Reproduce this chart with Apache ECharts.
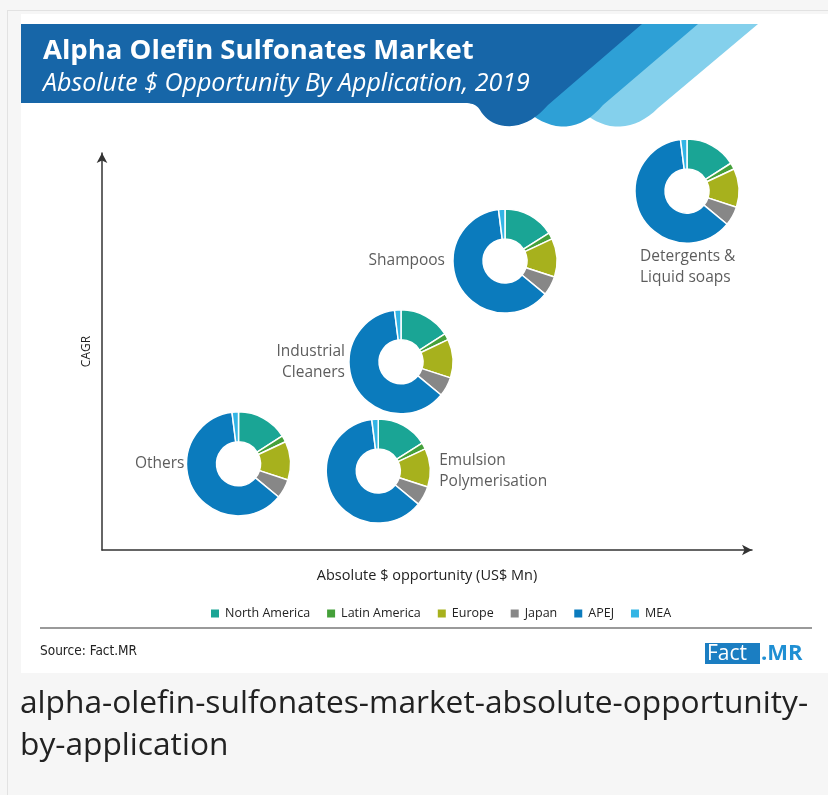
<!DOCTYPE html>
<html>
<head>
<meta charset="utf-8">
<title>Alpha Olefin Sulfonates Market</title>
<script src="https://cdn.jsdelivr.net/npm/echarts@6/dist/echarts.min.js"></script>
<style>
  body { margin: 0; background: #f6f6f6; font-family: 'Open Sans', sans-serif; }
  #frame { position: absolute; left: 7px; top: 10px; width: 821px; height: 785px;
           border-left: 1px solid #e2e2e2; border-top: 1px solid #e2e2e2; }
  #chart { position: absolute; left: 0; top: 0; width: 828px; height: 795px; }
  #caption { position: absolute; left: 20px; top: 680px; font-size: 31.7px; line-height: 42px; color: #222; white-space: nowrap; }
</style>
</head>
<body>
<div id="frame"></div>
<div id="chart"></div>
<div id="caption">alpha-olefin-sulfonates-market-absolute-opportunity-<br>by-application</div>
<script>
// applications and where they sit (absolute $ opportunity, CAGR)
const applications = ['Others', 'Emulsion Polymerisation', 'Industrial Cleaners', 'Shampoos', 'Detergents & Liquid soaps']
const appLabels = ['Others', 'Emulsion\nPolymerisation', 'Industrial\nCleaners', 'Shampoos', 'Detergents &\nLiquid soaps']
const opportunity = [21, 42.5, 46, 62, 90]
const cagr = [21.7, 19.9, 47.4, 72.8, 90.4]

// regional split of each donut (share %)
const regions = ['North America', 'Latin America', 'Europe', 'Japan', 'APEJ', 'MEA']
const regionColors = ['#1aa595', '#45a03a', '#a7b11d', '#878787', '#0b7bbd', '#33b5e5']
const shares = [
  [16, 2, 12, 6, 62, 2],
  [16, 2, 12, 6, 62, 2],
  [16, 2, 12, 6, 62, 2],
  [16, 2, 12, 6, 62, 2],
  [16, 2, 12, 6, 62, 2]
]

const chart = echarts.init(document.getElementById('chart'))

// label placement for each application, relative to its donut
const labelPlace = [
  { align: 'right', verticalAlign: 'middle', offset: [-54, 0] },
  { align: 'left', verticalAlign: 'middle', offset: [61, 0] },
  { align: 'right', verticalAlign: 'middle', offset: [-56, 0] },
  { align: 'right', verticalAlign: 'middle', offset: [-60, 0] },
  { align: 'left', verticalAlign: 'top', offset: [-47, 55] }
]

// header shapes: straight segments plus quadratic curves turned into points
function outline(parts) {
  const pts = []
  let cur = parts[0]
  pts.push(cur)
  for (let k = 1; k < parts.length; k++) {
    const p = parts[k]
    if (p.length === 4) {
      for (let t = 0.1; t <= 1.0001; t += 0.1) {
        const a = (1 - t) * (1 - t), b = 2 * (1 - t) * t, c = t * t
        pts.push([a * cur[0] + b * p[0] + c * p[2], a * cur[1] + b * p[1] + c * p[3]])
      }
      cur = [p[2], p[3]]
    } else {
      pts.push(p)
      cur = p
    }
  }
  return pts
}

const lightStripe = outline([[650, 24], [758, 24], [658, 108], [636, 130, 610, 126], [585, 120, 575, 100]])
const midStripe = outline([[600, 24], [698, 24], [603, 105], [582, 130, 556, 126], [530, 120, 520, 100]])
const darkBand = outline([[21, 24], [642, 24], [548, 105], [528, 128, 505, 126], [488, 124, 480, 110], [476, 103, 465, 103], [21, 103]])

const option = {
  color: regionColors,
  textStyle: { fontFamily: 'Open Sans' },
  title: {
    text: 'Alpha Olefin Sulfonates Market',
    subtext: 'Absolute $ Opportunity By Application, 2019',
    left: 38,
    top: 32,
    itemGap: 6,
    textStyle: { color: '#fff', fontSize: 27.5, fontWeight: 'bold', fontFamily: 'Open Sans' },
    subtextStyle: { color: '#fff', fontSize: 25, fontStyle: 'italic', fontFamily: 'Open Sans' }
  },
  legend: {
    data: regions,
    left: 204,
    top: 602,
    icon: 'rect',
    itemWidth: 10,
    itemHeight: 10,
    itemGap: 15,
    textStyle: { fontSize: 12.5, color: '#222', fontFamily: 'Open Sans' }
  },
  grid: { left: 102, right: 76, top: 153, bottom: 245 },
  xAxis: {
    type: 'value', min: 0, max: 100,
    name: 'Absolute $ opportunity (US$ Mn)',
    nameLocation: 'middle',
    nameGap: 18,
    nameTextStyle: { fontSize: 14.5, color: '#222' },
    axisLine: { lineStyle: { color: '#333', width: 1.5 }, symbol: ['none', 'arrow'], symbolSize: [8, 10] },
    axisTick: { show: false }, axisLabel: { show: false }, splitLine: { show: false }
  },
  yAxis: {
    type: 'value', min: 0, max: 100,
    name: 'CAGR',
    nameLocation: 'middle',
    nameGap: 9,
    nameTextStyle: { fontSize: 12, color: '#222' },
    axisLine: { lineStyle: { color: '#333', width: 1.5 }, symbol: ['none', 'arrow'], symbolSize: [8, 10] },
    axisTick: { show: false }, axisLabel: { show: false }, splitLine: { show: false }
  },
  graphic: [
    { type: 'rect', z: -10, shape: { x: 21, y: 14, width: 807, height: 659 }, style: { fill: '#fff' } },
    { type: 'polygon', z: -5, shape: { points: lightStripe }, style: { fill: '#84d0ec' } },
    { type: 'polygon', z: -4, shape: { points: midStripe }, style: { fill: '#2ea0d6' } },
    { type: 'polygon', z: -3, shape: { points: darkBand }, style: { fill: '#1766a8' } },
    { type: 'line', shape: { x1: 40, y1: 628, x2: 812, y2: 628 }, style: { stroke: '#9a9a9a', lineWidth: 2 } },
    { type: 'text', x: 40, y: 651, style: { text: 'Source: Fact.MR', fill: '#222', fontSize: 13.5, fontFamily: 'Liberation Sans Narrow, DejaVu Sans Condensed, sans-serif', verticalAlign: 'middle' } },
    { type: 'rect', shape: { x: 705, y: 643, width: 55, height: 21 }, style: { fill: '#1b7ec2' } },
    { type: 'text', x: 707, y: 654, style: { text: 'Fact', fill: '#fff', fontSize: 21, fontFamily: 'Open Sans', verticalAlign: 'middle' } },
    { type: 'text', x: 761, y: 654, style: { text: '.MR', fill: '#1f8fd3', fontSize: 22, fontWeight: 'bold', fontFamily: 'Open Sans', verticalAlign: 'middle' } }
  ],
  series: []
}

chart.setOption(option)

function buildSeries() {
  const labelSeries = {
    name: 'labels',
    type: 'scatter',
    symbolSize: 1,
    itemStyle: { color: 'rgba(0,0,0,0)' },
    silent: true,
    data: applications.map((name, i) => ({
      name: name,
      value: [opportunity[i], cagr[i]],
      label: Object.assign({
        show: true,
        position: 'inside',
        formatter: appLabels[i],
        fontSize: 15.5,
        lineHeight: 21,
        color: '#333'
      }, labelPlace[i])
    }))
  }
  const pies = applications.map((name, i) => ({
    name: name,
    type: 'pie',
    center: chart.convertToPixel({ gridIndex: 0 }, [opportunity[i], cagr[i]]),
    radius: [22, 52],
    startAngle: 90,
    label: { show: false },
    labelLine: { show: false },
    itemStyle: { borderColor: '#fff', borderWidth: 1.5 },
    emphasis: { scale: false },
    data: regions.map((r, j) => ({ name: r, value: shares[i][j] }))
  }))
  return [labelSeries].concat(pies)
}

chart.setOption({ series: buildSeries() })
</script>
</body>
</html>
